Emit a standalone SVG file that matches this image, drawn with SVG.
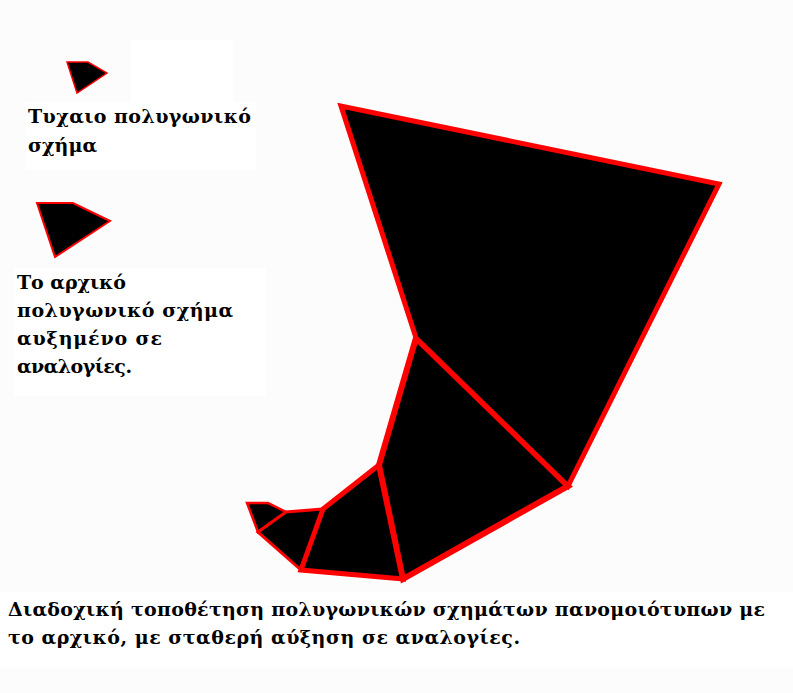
<svg xmlns="http://www.w3.org/2000/svg" width="793" height="693" viewBox="0 0 793 693">
<style>
.bg{fill:#fcfcfc}
.box{fill:#ffffff}
.poly{fill:#000000;stroke:#ff0000;stroke-linejoin:miter;stroke-miterlimit:10}
.t{font-family:"DejaVu Serif","Liberation Serif",serif;font-weight:bold;font-size:19px;fill:#000000}
</style>
<rect class="bg" x="0" y="0" width="793" height="693"/>
<rect class="box" x="131" y="40" width="102" height="62"/>
<rect class="box" x="26" y="102" width="230" height="68"/>
<rect class="box" x="14" y="268" width="252" height="128"/>
<rect class="box" x="0" y="592" width="793" height="75"/>
<g id="shape-random">
<polygon class="poly" style="stroke-width:1.5" points="67,62 88,62 107,73 77,93"/>
<text class="t" x="28" y="123" textLength="223" lengthAdjust="spacing">Τυχαιο πολυγωνικό</text>
<text class="t" x="28" y="152" textLength="69" lengthAdjust="spacing">σχήμα</text>
</g>
<g id="shape-scaled">
<polygon class="poly" style="stroke-width:2" points="37,203 73,203 110,221 55,257"/>
<text class="t" x="17" y="289" textLength="109" lengthAdjust="spacing">Το αρχικό</text>
<text class="t" x="17" y="317" textLength="216" lengthAdjust="spacing">πολυγωνικό σχήμα</text>
<text class="t" x="17" y="345" textLength="145" lengthAdjust="spacing">αυξημένο σε</text>
<text class="t" x="17" y="373" textLength="115" lengthAdjust="spacing">αναλογίες.</text>
</g>
<g id="chain">
<polygon class="poly" style="stroke-width:2.5" points="247,503 268,503 286,512 258,532"/>
<polygon class="poly" style="stroke-width:3" points="258,532 286,512 323,509 301,570"/>
<polygon class="poly" style="stroke-width:5" points="301,570 323,509 379,465 403,579"/>
<polygon class="poly" style="stroke-width:6" points="403,579 379,465 416,338 568,486"/>
<polygon class="poly" style="stroke-width:5" points="568,486 416,338 341,106 719,184"/>
</g>
<g id="caption">
<text class="t" x="8" y="616" textLength="757" lengthAdjust="spacing">Διαδοχική τοποθέτηση πολυγωνικών σχημάτων πανομοιότυπων με</text>
<text class="t" x="8" y="644" textLength="512" lengthAdjust="spacing">το αρχικό, με σταθερή αύξηση σε αναλογίες.</text>
</g>
</svg>
